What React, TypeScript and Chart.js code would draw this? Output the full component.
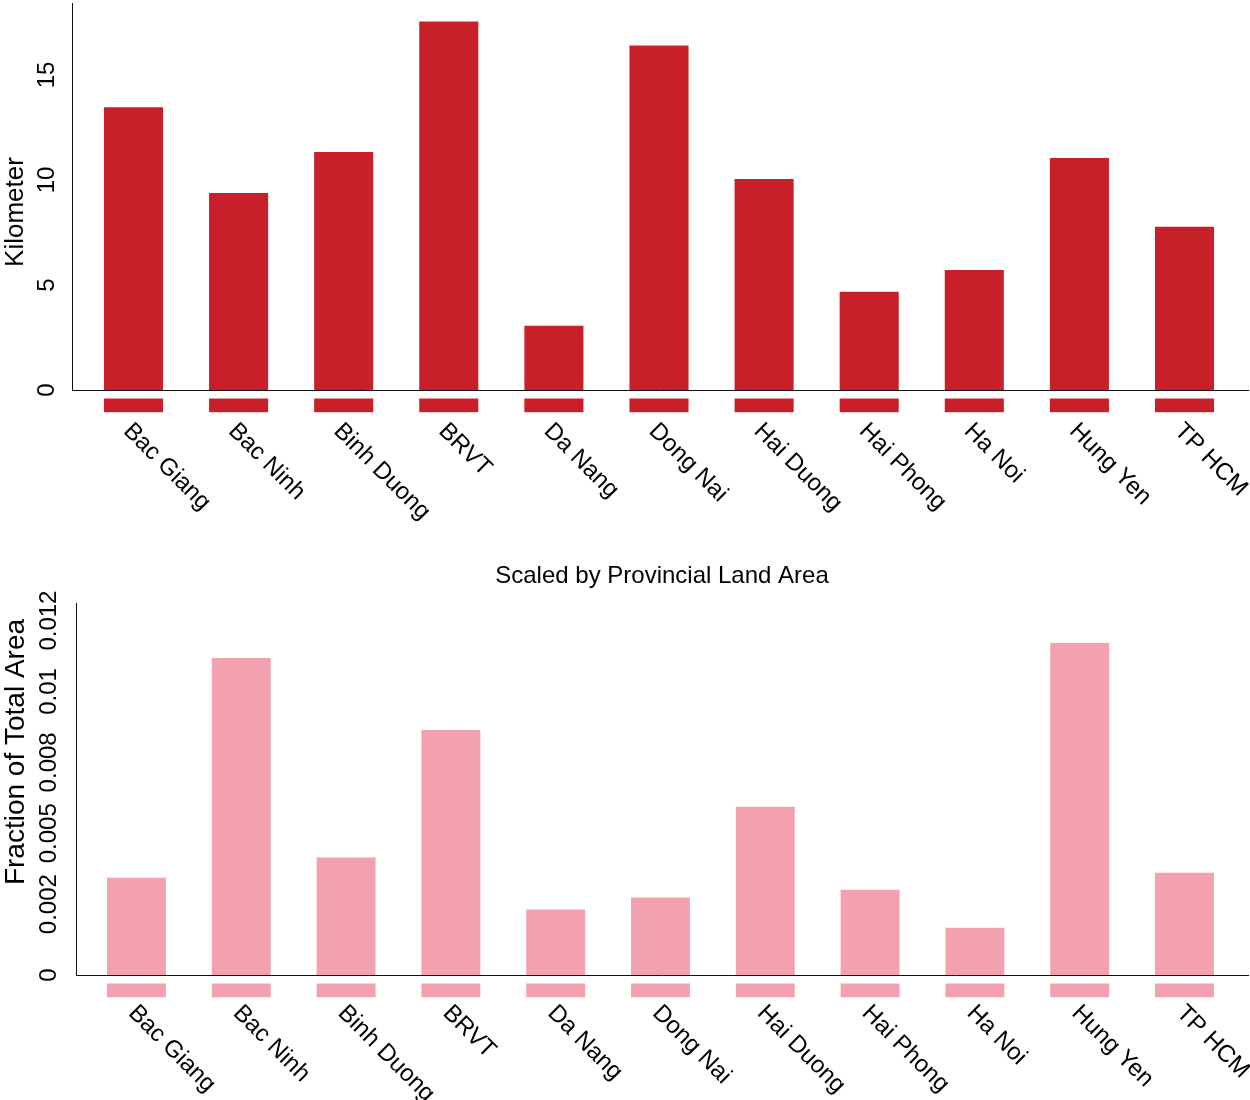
import React, { useEffect, useRef } from "react";
import { Chart, registerables } from "chart.js";

Chart.register(...registerables);

// Provinces shown along both panels
const provinces = [
  "Bac Giang",
  "Bac Ninh",
  "Binh Duong",
  "BRVT",
  "Da Nang",
  "Dong Nai",
  "Hai Duong",
  "Hai Phong",
  "Ha Noi",
  "Hung Yen",
  "TP HCM",
];

// Upper panel: length in kilometres
const kilometers = [13.47, 9.38, 11.33, 17.55, 3.06, 16.41, 10.05, 4.68, 5.72, 11.05, 7.77];
const kilometerTicks = [0, 5, 10, 15];
const kilometerMax = 18.43;

// Lower panel: scaled by provincial land area
const areaFractions = [
  0.00343, 0.01118, 0.00414, 0.00864, 0.00231, 0.00273, 0.00593, 0.00301, 0.00167, 0.01171, 0.00361,
];
const fractionTicks = [0, 0.0025, 0.005, 0.0075, 0.01, 0.0125];
const fractionMax = 0.01312;

const FONT = "'Liberation Sans', Arial, Helvetica, sans-serif";
const RED = "#C8202A";
const PINK = "#F4A1AF";
const AXIS = "#111111";

// Three-decimal labels, rounding halves to even
function formatFraction(v: number): string {
  if (v === 0) return "0";
  const scaled = v * 1000;
  const lower = Math.floor(scaled + 1e-9);
  const diff = scaled - lower;
  let n: number;
  if (Math.abs(diff - 0.5) < 1e-6) n = lower % 2 === 0 ? lower : lower + 1;
  else n = Math.round(scaled);
  return String(n / 1000);
}

// Short blocks in the bar colour just beneath the x axis, one per bar
const belowAxisMarks = {
  id: "belowAxisMarks",
  afterDatasetsDraw(chart: any, _args: any, opts: any) {
    const meta = chart.getDatasetMeta(0);
    const ctx = chart.ctx;
    const base = chart.chartArea.bottom;
    ctx.save();
    ctx.fillStyle = chart.data.datasets[0].backgroundColor;
    for (const bar of meta.data) {
      const { x, width } = bar.getProps(["x", "width"], true);
      ctx.fillRect(x - width / 2, base + opts.gap, width, opts.length);
    }
    ctx.restore();
  },
};

// Category names slanted downwards under each bar
const slantedLabels = {
  id: "slantedLabels",
  afterDraw(chart: any, _args: any, opts: any) {
    const scale = chart.scales.x;
    const ctx = chart.ctx;
    ctx.save();
    ctx.font = opts.font;
    ctx.fillStyle = opts.color;
    ctx.textAlign = "left";
    ctx.textBaseline = "alphabetic";
    (opts.labels as string[]).forEach((label, i) => {
      const x = scale.getPixelForValue(i) + opts.dx;
      const y = chart.chartArea.bottom + opts.dy;
      ctx.save();
      ctx.translate(x, y);
      ctx.rotate(Math.PI / 4);
      ctx.fillText(label, 0, 0);
      ctx.restore();
    });
    ctx.restore();
  },
};

// Vertical axis title
const sideTitle = {
  id: "sideTitle",
  afterDraw(chart: any, _args: any, opts: any) {
    const ctx = chart.ctx;
    const area = chart.chartArea;
    ctx.save();
    ctx.font = opts.font;
    ctx.fillStyle = opts.color;
    ctx.textAlign = "center";
    ctx.textBaseline = "middle";
    ctx.translate(opts.x, (area.top + area.bottom) / 2 + opts.shift);
    ctx.rotate(-Math.PI / 2);
    ctx.fillText(opts.text, 0, 0);
    ctx.restore();
  },
};

type PanelProps = {
  values: number[];
  color: string;
  yTicks: number[];
  yMax: number;
  yFormat: (v: number) => string;
  yTitle: string;
  yTitleSize: number;
  yTitleShift: number;
  yWidth: number;
  yTickPadding: number;
  xMin: number;
  xMax: number;
  title?: string;
  height: number;
  top: number;
  axisGap: number;
  paddingTop: number;
  labelDx: number;
  labelDy: number;
};

function BarPanel(p: PanelProps) {
  const ref = useRef<HTMLCanvasElement | null>(null);

  useEffect(() => {
    if (!ref.current) return;
    const chart = new Chart(ref.current, {
      type: "bar",
      data: {
        datasets: [
          {
            data: p.values.map((v, i) => ({ x: i, y: v })),
            backgroundColor: p.color,
            borderWidth: 0,
            barPercentage: 0.562,
            categoryPercentage: 1,
          },
        ],
      },
      options: {
        animation: false,
        responsive: false,
        events: [],
        layout: { padding: { top: p.paddingTop, right: 2, left: 0, bottom: 0 } },
        scales: {
          x: {
            type: "linear",
            min: p.xMin,
            max: p.xMax,
            offset: false,
            grid: { display: false, drawTicks: false, offset: false },
            border: { display: true, color: AXIS, width: 1 },
            ticks: { display: false },
            afterFit: (scale: any) => {
              scale.height = p.height - p.axisGap;
              scale.paddingLeft = 0;
              scale.paddingRight = 0;
            },
          },
          y: {
            min: 0,
            max: p.yMax,
            grid: { display: false, drawTicks: false },
            border: { display: true, color: AXIS, width: 1 },
            afterBuildTicks: (scale: any) => {
              scale.ticks = p.yTicks.map((v) => ({ value: v }));
            },
            ticks: {
              autoSkip: false,
              minRotation: 90,
              maxRotation: 90,
              crossAlign: "center",
              padding: p.yTickPadding,
              color: "#000",
              font: { family: FONT, size: 24 },
              callback: (v: any) => p.yFormat(Number(v)),
            },
            afterFit: (scale: any) => {
              scale.width = p.yWidth;
              scale.paddingTop = 0;
              scale.paddingBottom = 0;
            },
          },
        },
        plugins: {
          legend: { display: false },
          tooltip: { enabled: false },
          title: p.title
            ? {
                display: true,
                text: p.title,
                color: "#000",
                fullSize: false,
                font: { family: FONT, size: 24, weight: "normal" },
                padding: { top: 17, bottom: 12.2 },
              }
            : { display: false },
          belowAxisMarks: { gap: 8.5, length: 13.7 },
          slantedLabels: {
            labels: provinces,
            font: `24px ${FONT}`,
            color: "#000",
            dx: p.labelDx,
            dy: p.labelDy,
          },
          sideTitle: {
            text: p.yTitle,
            font: `${p.yTitleSize}px ${FONT}`,
            color: "#000",
            x: 16,
            shift: p.yTitleShift,
          },
        } as any,
      } as any,
      plugins: [belowAxisMarks, slantedLabels, sideTitle],
    });
    return () => chart.destroy();
  }, []);

  return (
    <canvas
      ref={ref}
      width={1250}
      height={p.height}
      style={{ position: "absolute", left: 0, top: p.top, display: "block" }}
    />
  );
}

export default function App() {
  return (
    <div
      style={{
        position: "absolute",
        left: 0,
        top: 0,
        width: 1250,
        height: 1100,
        background: "#fff",
        overflow: "hidden",
      }}
    >
      <BarPanel
        values={kilometers}
        color={RED}
        yTicks={kilometerTicks}
        yMax={kilometerMax}
        yFormat={(v) => String(v)}
        yTitle="Kilometer"
        yTitleSize={26}
        yTitleShift={15.5}
        yWidth={72}
        yTickPadding={11.6}
        xMin={-0.585}
        xMax={10.604}
        height={545}
        top={0}
        axisGap={390}
        paddingTop={3}
        labelDx={-11}
        labelDy={42}
      />
      <BarPanel
        values={areaFractions}
        color={PINK}
        yTicks={fractionTicks}
        yMax={fractionMax}
        yFormat={formatFraction}
        yTitle="Fraction of Total Area"
        yTitleSize={28}
        yTitleShift={-37}
        yWidth={76}
        yTickPadding={-3}
        xMin={-0.577}
        xMax={10.606}
        title="Scaled by Provincial Land Area"
        height={555}
        top={545}
        axisGap={430}
        paddingTop={0}
        labelDx={-9}
        labelDy={39}
      />
    </div>
  );
}
